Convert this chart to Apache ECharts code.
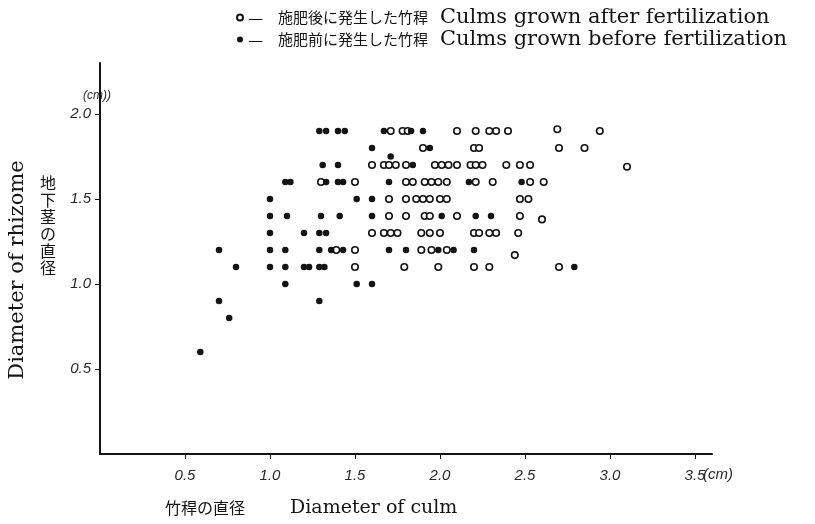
<!DOCTYPE html>
<html>
<head>
<meta charset="utf-8">
<script src="https://cdn.jsdelivr.net/npm/echarts@6/dist/echarts.min.js"></script>
<style>
  html, body { margin: 0; background: #fff; }
  #main { width: 815px; height: 524px; }
</style>
</head>
<body>
<div id="main"></div>
<script>
// 施肥後に発生した竹稈 (open circles): [culm diameter, rhizome diameter]
const afterPoints = [
  [1.30, 1.6], [1.50, 1.6], [1.60, 1.7], [1.39, 1.2], [1.50, 1.2], [1.60, 1.3], [1.50, 1.1],
  [1.71, 1.9], [1.78, 1.9], [1.81, 1.9], [2.10, 1.9], [2.21, 1.9], [2.29, 1.9], [2.33, 1.9],
  [2.40, 1.9], [2.69, 1.91], [2.94, 1.9],
  [1.90, 1.8], [2.20, 1.8], [2.23, 1.8], [2.70, 1.8], [2.85, 1.8],
  [1.67, 1.7], [1.70, 1.7], [1.74, 1.7], [1.80, 1.7], [1.97, 1.7], [2.01, 1.7], [2.05, 1.7],
  [2.10, 1.7], [2.18, 1.7], [2.21, 1.7], [2.25, 1.7], [2.39, 1.7], [2.47, 1.7], [2.53, 1.7],
  [3.10, 1.69],
  [1.80, 1.6], [1.84, 1.6], [1.91, 1.6], [1.95, 1.6], [1.99, 1.6], [2.04, 1.6], [2.21, 1.6],
  [2.31, 1.6], [2.53, 1.6], [2.61, 1.6],
  [1.70, 1.5], [1.80, 1.5], [1.86, 1.5], [1.90, 1.5], [1.94, 1.5], [2.00, 1.5], [2.04, 1.5],
  [2.47, 1.5], [2.52, 1.5],
  [1.70, 1.4], [1.80, 1.4], [1.91, 1.4], [1.94, 1.4], [2.10, 1.4], [2.47, 1.4], [2.60, 1.38],
  [1.67, 1.3], [1.71, 1.3], [1.75, 1.3], [1.89, 1.3], [1.94, 1.3], [2.00, 1.3], [2.20, 1.3],
  [2.23, 1.3], [2.29, 1.3], [2.33, 1.3], [2.46, 1.3],
  [1.89, 1.2], [1.95, 1.2], [2.04, 1.2], [2.44, 1.17],
  [1.79, 1.1], [1.99, 1.1], [2.20, 1.1], [2.29, 1.1], [2.70, 1.1]
];

// 施肥前に発生した竹稈 (filled dots)
const beforePoints = [
  [0.59, 0.6], [0.70, 0.9], [0.76, 0.8], [0.70, 1.2], [0.80, 1.1],
  [1.00, 1.5], [1.00, 1.4], [1.00, 1.3], [1.00, 1.2], [1.00, 1.1],
  [1.09, 1.6], [1.12, 1.6], [1.10, 1.4], [1.09, 1.2], [1.09, 1.1], [1.09, 1.0],
  [1.20, 1.3], [1.20, 1.1], [1.23, 1.1],
  [1.29, 1.9], [1.33, 1.9], [1.31, 1.7], [1.33, 1.6], [1.30, 1.4], [1.29, 1.3], [1.33, 1.3],
  [1.29, 1.2], [1.29, 1.1], [1.32, 1.1], [1.29, 0.9],
  [1.40, 1.9], [1.44, 1.9], [1.40, 1.7], [1.40, 1.6], [1.43, 1.6], [1.41, 1.4], [1.36, 1.2],
  [1.43, 1.2],
  [1.51, 1.5], [1.51, 1.0],
  [1.60, 1.8], [1.60, 1.5], [1.60, 1.4], [1.60, 1.0],
  [1.67, 1.9], [1.83, 1.9], [1.90, 1.9], [1.94, 1.8], [1.71, 1.75], [1.84, 1.7], [1.70, 1.6],
  [2.01, 1.4], [2.21, 1.4], [2.30, 1.4],
  [1.70, 1.2], [1.80, 1.2], [1.99, 1.2], [2.08, 1.2], [2.20, 1.2],
  [2.17, 1.6], [2.48, 1.6], [2.79, 1.1]
];

const xTicks = [0.5, 1.0, 1.5, 2.0, 2.5, 3.0, 3.5];
const yTicks = [0.5, 1.0, 1.5, 2.0];

const legendJp = ['施肥後に発生した竹稈', '施肥前に発生した竹稈'];
const legendEn = ['Culms grown after fertilization', 'Culms grown before fertilization'];
const seriesNames = [legendJp[0] + ' ' + legendEn[0], legendJp[1] + ' ' + legendEn[1]];

const INK = '#141414';
const labelFont = { fontFamily: 'Liberation Sans', fontStyle: 'italic', fontSize: 15, color: '#2a2a2a' };

const chart = echarts.init(document.getElementById('main'));

chart.setOption({
  animation: false,
  backgroundColor: '#fff',
  grid: { left: 100, right: 103, top: 63, bottom: 70, outerBoundsMode: 'none' },
  legend: {
    orient: 'vertical',
    left: 231,
    top: 2,
    itemWidth: 6,
    itemHeight: 6,
    itemGap: 1,
    data: seriesNames,
    formatter: function (name) {
      const i = seriesNames.indexOf(name);
      return '{d|—}{jp|' + legendJp[i] + '}{en|' + legendEn[i] + '}';
    },
    textStyle: {
      rich: {
        d: { fontFamily: 'Noto Sans CJK JP', fontSize: 17, color: INK, lineHeight: 22, width: 30 },
        jp: { fontFamily: 'Noto Sans CJK JP', fontSize: 15, color: INK, lineHeight: 22, width: 162 },
        en: { fontFamily: 'DejaVu Serif', fontSize: 21, color: INK, lineHeight: 22 }
      }
    }
  },
  xAxis: {
    type: 'value',
    min: 0,
    max: 3.6,
    interval: 0.5,
    splitLine: { show: false },
    axisLine: { onZero: false, lineStyle: { color: INK, width: 2 } },
    axisTick: { customValues: xTicks, length: 5, lineStyle: { color: INK, width: 1 } },
    axisLabel: Object.assign({ customValues: xTicks, margin: 14, formatter: v => v.toFixed(1) }, labelFont)
  },
  yAxis: {
    type: 'value',
    min: 0,
    max: 2.3,
    interval: 0.5,
    splitLine: { show: false },
    axisLine: { onZero: false, lineStyle: { color: INK, width: 2 } },
    axisTick: { customValues: yTicks, length: 5, lineStyle: { color: INK, width: 1 } },
    axisLabel: Object.assign({ customValues: yTicks, margin: 9, formatter: v => v.toFixed(1) }, labelFont)
  },
  graphic: [
    { type: 'text', left: 703, top: 467, style: Object.assign({ text: '(cm)' }, labelFont, { fill: '#2a2a2a' }) },
    { type: 'text', left: 83, top: 90, style: { text: '(cm))', fontFamily: 'Liberation Sans', fontStyle: 'italic', fontSize: 12, fill: '#2a2a2a' } },
    { type: 'text', x: 18, y: 270, rotation: Math.PI / 2,
      style: { text: 'Diameter of rhizome', fontFamily: 'DejaVu Serif', fontSize: 21, fill: INK, align: 'center', verticalAlign: 'middle' } },
    { type: 'text', x: 48, y: 225,
      style: { text: '地\n下\n茎\nの\n直\n径', fontFamily: 'Noto Sans CJK JP', fontSize: 16, lineHeight: 17, fill: INK, align: 'center', verticalAlign: 'middle' } },
    { type: 'text', x: 165, y: 508,
      style: { text: '竹稈の直径', fontFamily: 'Noto Sans CJK JP', fontSize: 16, fill: INK, align: 'left', verticalAlign: 'middle' } },
    { type: 'text', x: 290, y: 508,
      style: { text: 'Diameter of culm', fontFamily: 'DejaVu Serif', fontSize: 19, fill: INK, align: 'left', verticalAlign: 'middle' } }
  ],
  series: [
    {
      name: seriesNames[0],
      type: 'scatter',
      data: afterPoints,
      symbol: 'circle',
      symbolSize: 6.5,
      itemStyle: { color: '#fff', borderColor: INK, borderWidth: 1.6, opacity: 1 }
    },
    {
      name: seriesNames[1],
      type: 'scatter',
      data: beforePoints,
      symbol: 'circle',
      symbolSize: 6.5,
      itemStyle: { color: INK, opacity: 1 }
    }
  ]
});
</script>
</body>
</html>
